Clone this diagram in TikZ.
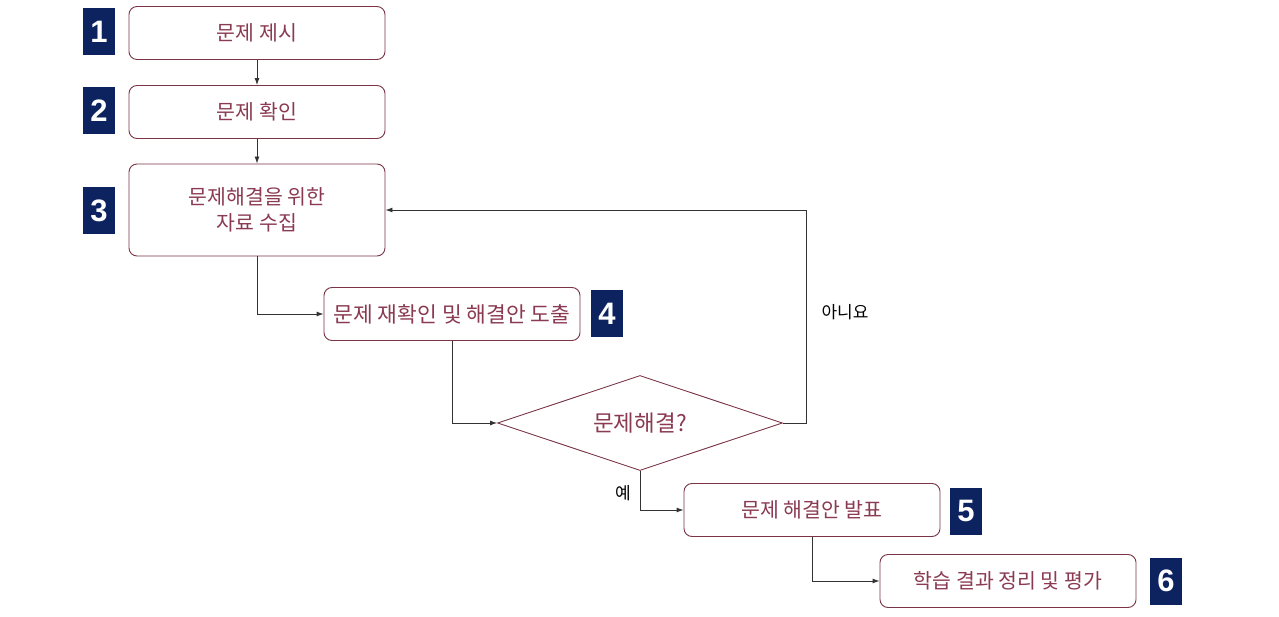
\documentclass[tikz,border=0pt]{standalone}
\usepackage{fontspec}
\setmainfont{Noto Sans CJK KR}
\newfontfamily\numfont{Liberation Sans}
\usetikzlibrary{shapes.geometric,arrows.meta}
\definecolor{boxline}{HTML}{7A3446}
\definecolor{boxtext}{HTML}{8A3A52}
\definecolor{navy}{HTML}{0C2360}
\definecolor{conn}{HTML}{333333}
\tikzset{
  stepbox/.style={draw=boxline, line width=0.9pt, rounded corners=8pt, fill=white,
    minimum width=256pt, minimum height=53pt, inner sep=0pt, text=boxtext,
    font=\fontsize{20.5}{26}\selectfont, align=center},
  badge/.style={fill=navy, text=white, minimum width=32pt, minimum height=47pt,
    inner sep=0pt, font=\numfont\bfseries\fontsize{31}{31}\selectfont},
  decision/.style={draw=boxline, line width=0.9pt, diamond, aspect=3, fill=white,
    minimum width=285pt, minimum height=95pt, inner sep=0pt, text=boxtext,
    font=\fontsize{22.5}{26}\selectfont},
  conn/.style={draw=conn, line width=0.9pt, -{Latex[length=7pt,width=5pt]}},
  lbl/.style={text=black, font=\fontsize{17}{20}\selectfont, inner sep=0pt}
}
\begin{document}
\begin{tikzpicture}[x=1pt,y=-1pt]
\useasboundingbox[fill=white] (0,0) rectangle (1279,617);
% boxes
\node[stepbox] (b1) at (257,33) {문제 제시};
\node[stepbox] (b2) at (257,112) {문제 확인};
\node[stepbox, minimum height=92pt] (b3) at (257,210) {문제해결을 위한\\자료 수집};
\node[stepbox, font=\fontsize{21.5}{26}\selectfont] (b4) at (452,314) {문제 재확인 및 해결안 도출};
\node[decision] (d) at (640,423) {문제해결?};
\node[stepbox] (b5) at (812,510) {문제 해결안 발표};
\node[stepbox] (b6) at (1008,581) {학습 결과 정리 및 평가};
% badges
\node[badge] (n1) at (99,32) {1};
\node[badge] (n2) at (99,111) {2};
\node[badge] (n3) at (99,211) {3};
\node[badge] (n4) at (607,314) {4};
\node[badge] (n5) at (966,511) {5};
\node[badge] (n6) at (1166,581) {6};
% connectors
\coordinate (c1) at (806,423);
\coordinate (c2) at (806,210);
\draw[conn] (b1) -- (b2);
\draw[conn] (b2) -- (b3);
\draw[conn] (b3.south) |- (b4.west);
\draw[conn] (b4.south) |- (d.west);
\draw[conn] (d.east) -- (c1) -- (c2) -- (b3.east);
\draw[conn] (d.south) |- (b5.west);
\draw[conn] (b5.south) |- (b6.west);
% labels
\node[lbl] (no) at (845,312) {아니요};
\node[lbl] (yes) at (623,493) {예};
\end{tikzpicture}
\end{document}
